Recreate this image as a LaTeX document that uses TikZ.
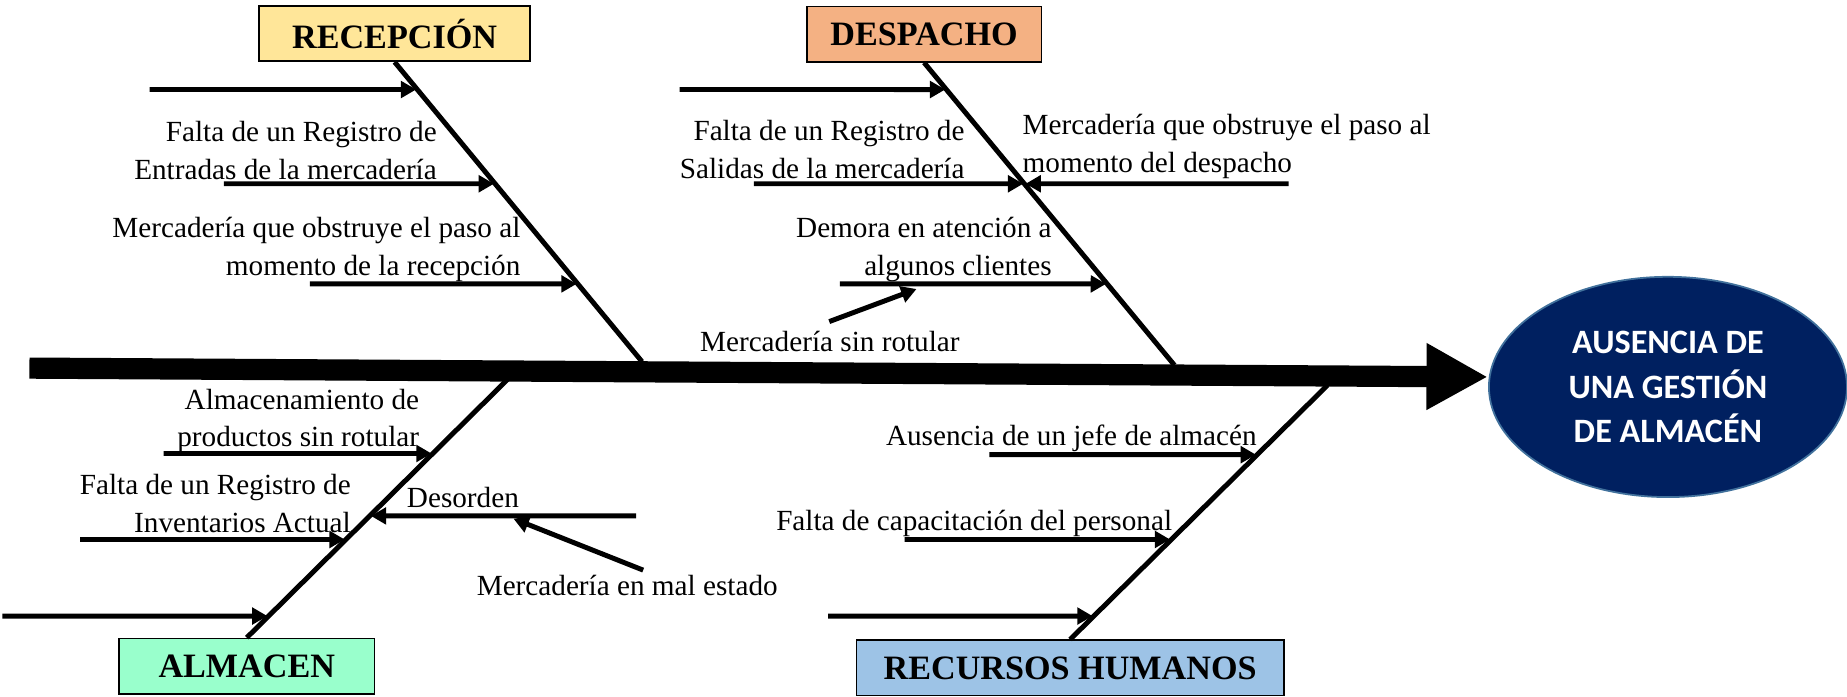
\documentclass[tikz,border=0pt]{standalone}
\usepackage{fontspec}
\setmainfont{Liberation Serif}
\newfontfamily\carl{Carlito}
\usetikzlibrary{arrows.meta,shapes.geometric,calc}
\definecolor{recfill}{HTML}{FFE699}
\definecolor{desfill}{HTML}{F4B183}
\definecolor{almfill}{HTML}{99FFCC}
\definecolor{rhfill}{HTML}{9DC3E6}
\definecolor{navy}{HTML}{002060}
\definecolor{navyedge}{HTML}{41719C}
\begin{document}
\begin{tikzpicture}[x=1pt,y=-1pt,
  cat/.style={draw=black, line width=1.3pt, inner sep=0pt, minimum height=47pt,
    font=\fontsize{29}{32}\selectfont\bfseries},
  bone/.style={line width=4.2pt},
  cause/.style={line width=4.2pt, -{Triangle[length=13pt,width=14pt]}, shorten >=1pt},
  lbl/.style={inner sep=0pt, align=#1, font=\fontsize{24.8}{32}\selectfont},
  lbl/.default=center,
  spine/.style={line width=18pt, -{Triangle[length=52pt,width=53pt]}}
]
\useasboundingbox (0,0) rectangle (1568,591);

% category boxes and effect
\node[cat, fill=recfill, minimum width=230pt] (rec) at (335,28.5) {RECEPCIÓN};
\node[cat, fill=desfill, minimum width=199pt] (des) at (784.5,29) {DESPACHO};
\node[cat, fill=almfill, minimum width=217pt] (alm) at (209.5,565.5) {ALMACEN};
\node[cat, fill=rhfill, minimum width=363pt] (rh) at (908.5,567) {RECURSOS HUMANOS};
\node[ellipse, fill=navy, draw=navyedge, line width=1.5pt, minimum width=304pt,
  minimum height=187pt, inner sep=0pt, align=center, text=white,
  font=\carl\bfseries\fontsize{29}{38}\selectfont] (goal) at (1416,328.5)
  {AUSENCIA DE\\UNA GESTIÓN\\DE ALMACÉN};

% spine
\coordinate (spL) at (25,312.5);
\coordinate (spR) at (1263,320);
\draw[spine] (spL) -- (spR);

% bones
\coordinate (recB) at (545,307);
\coordinate (desB) at (997,310);
\coordinate (almB) at (431,322);
\coordinate (rhB) at (1127,327);
\draw[bone] (rec.south) -- (recB);
\draw[bone] (des.south) -- (desB);
\draw[bone] (alm.north) -- (almB);
\draw[bone] (rh.north) -- (rhB);

% labels
\node[lbl=right, anchor=east] (t1) at (371,127.5) {Falta de un Registro de\\Entradas de la mercadería};
\node[lbl=right, anchor=east] (t2) at (442,211.5) {Mercadería que obstruye el paso al\\momento de la recepción};
\node[lbl=right, anchor=east] (t3) at (819,127) {Falta de un Registro de\\Salidas de la mercadería};
\node[lbl=left, anchor=west] (t4) at (868,124.5) {Mercadería que obstruye el paso al\\momento del despacho};
\node[lbl=right, anchor=east] (t5) at (893,212) {Demora en atención a\\algunos clientes};
\node[lbl] (t6) at (704.5,290) {Mercadería sin rotular};
\node[lbl=right, anchor=east] (t7) at (356,357.5) {Almacenamiento de\\productos sin rotular};
\node[lbl=right, anchor=east] (t8) at (298,427.5) {Falta de un Registro de\\Inventarios Actual};
\node[lbl] (t9) at (393,422) {Desorden};
\node[lbl] (t10) at (532.5,497) {Mercadería en mal estado};
\node[lbl] (t11) at (909.5,372) {Ausencia de un jefe de almacén};
\node[lbl] (t12) at (827,444) {Falta de capacitación del personal};

% cause arrows: RECEPCION
\coordinate (r1s) at (127,76);
\coordinate (r2s) at (190,156);
\coordinate (r3s) at (263,241);
\coordinate (r1) at (intersection of rec.south--recB and 0,76--100,76);
\coordinate (r2) at (intersection of rec.south--recB and 0,156--100,156);
\coordinate (r3) at (intersection of rec.south--recB and 0,241--100,241);
\draw[cause] (r1s) -- (r1);
\draw[cause] (r2s) -- (r2);
\draw[cause] (r3s) -- (r3);

% DESPACHO
\coordinate (d1s) at (577,76);
\coordinate (d2s) at (640,156);
\coordinate (d3s) at (1094,156);
\coordinate (d4s) at (713,241);
\coordinate (d1) at (intersection of des.south--desB and 0,76--100,76);
\coordinate (d2) at (intersection of des.south--desB and 0,156--100,156);
\coordinate (d4) at (intersection of des.south--desB and 0,241--100,241);
\draw[cause] (d1s) -- (d1);
\draw[cause] (d2s) -- (d2);
\draw[cause] (d3s) -- (d2);
\draw[cause] (d4s) -- (d4);
\coordinate (dss) at (704,273);
\coordinate (dse) at (779,245);
\draw[cause] (dss) -- (dse);

% ALMACEN
\coordinate (a1s) at (139,385);
\coordinate (a2s) at (68,458);
\coordinate (a3s) at (2,523);
\coordinate (a4s) at (540,438);
\coordinate (a1) at (intersection of alm.north--almB and 0,385--100,385);
\coordinate (a2) at (intersection of alm.north--almB and 0,458--100,458);
\coordinate (a3) at (intersection of alm.north--almB and 0,523--100,523);
\coordinate (a4) at (intersection of alm.north--almB and 0,438--100,438);
\draw[cause] (a1s) -- (a1);
\draw[cause] (a2s) -- (a2);
\draw[cause] (a3s) -- (a3);
\draw[cause] (a4s) -- (a4);
\coordinate (ams) at (546,484);
\coordinate (ame) at (435,440);
\draw[cause] (ams) -- (ame);

% RECURSOS HUMANOS
\coordinate (h1s) at (840,386);
\coordinate (h2s) at (768,458);
\coordinate (h3s) at (703,523);
\coordinate (h1) at (intersection of rh.north--rhB and 0,386--100,386);
\coordinate (h2) at (intersection of rh.north--rhB and 0,458--100,458);
\coordinate (h3) at (intersection of rh.north--rhB and 0,523--100,523);
\draw[cause] (h1s) -- (h1);
\draw[cause] (h2s) -- (h2);
\draw[cause] (h3s) -- (h3);
\end{tikzpicture}
\end{document}
